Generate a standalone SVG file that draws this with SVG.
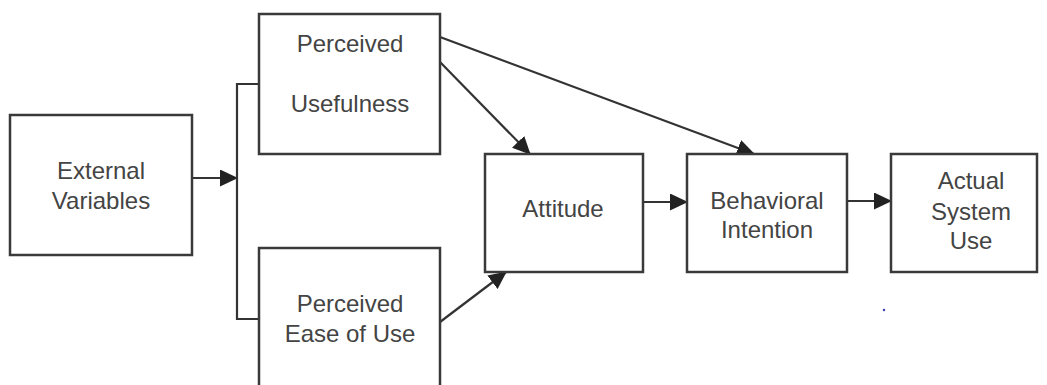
<svg xmlns="http://www.w3.org/2000/svg" width="1047" height="385" viewBox="0 0 1047 385">
<style>
.box{fill:#fff;stroke:#3a3a3a;stroke-width:2.5}
.t{font-family:"Liberation Sans",Arial,sans-serif;font-size:24px;fill:#444;text-anchor:middle}
.c{fill:none;stroke:#333;stroke-width:2.2}
</style>
<defs>
<marker id="ah" markerUnits="userSpaceOnUse" markerWidth="18" markerHeight="17" refX="17" refY="8.5" orient="auto">
<path d="M0,0 L18,8.5 L0,17 Z" fill="#222"/>
</marker>
</defs>
<rect width="1047" height="385" fill="#fff"/>
<g id="connectors">
<line class="c" x1="192" y1="178" x2="237" y2="178" marker-end="url(#ah)"/>
<polyline class="c" points="259,84 237,84 237,319 259,319"/>
<line class="c" x1="440" y1="62" x2="530" y2="154" marker-end="url(#ah)"/>
<line class="c" x1="440" y1="37" x2="754" y2="154" marker-end="url(#ah)"/>
<line class="c" x1="440" y1="322" x2="506" y2="272" marker-end="url(#ah)"/>
<line class="c" x1="643" y1="202" x2="687" y2="202" marker-end="url(#ah)"/>
<line class="c" x1="847" y1="201" x2="891" y2="201" marker-end="url(#ah)"/>
</g>
<g id="external">
<rect class="box" x="10" y="115" width="182" height="140"/>
<text class="t" x="101" y="179">External</text>
<text class="t" x="101" y="209">Variables</text>
</g>
<g id="pu">
<rect class="box" x="259" y="14" width="181" height="140"/>
<text class="t" x="350" y="52">Perceived</text>
<text class="t" x="350" y="112">Usefulness</text>
</g>
<g id="peu">
<rect class="box" x="259" y="248" width="181" height="150"/>
<text class="t" x="350" y="312">Perceived</text>
<text class="t" x="350" y="342">Ease of Use</text>
</g>
<g id="attitude">
<rect class="box" x="485" y="154" width="158" height="118"/>
<text class="t" x="563" y="217">Attitude</text>
</g>
<g id="bi">
<rect class="box" x="687" y="154" width="160" height="118"/>
<text class="t" x="767" y="209">Behavioral</text>
<text class="t" x="767" y="238">Intention</text>
</g>
<g id="asu">
<rect class="box" x="891" y="154" width="146" height="118"/>
<text class="t" x="971" y="189">Actual</text>
<text class="t" x="971" y="220">System</text>
<text class="t" x="971" y="249">Use</text>
</g>
<circle cx="884" cy="310" r="1.2" fill="#3a3ab0"/>
</svg>
